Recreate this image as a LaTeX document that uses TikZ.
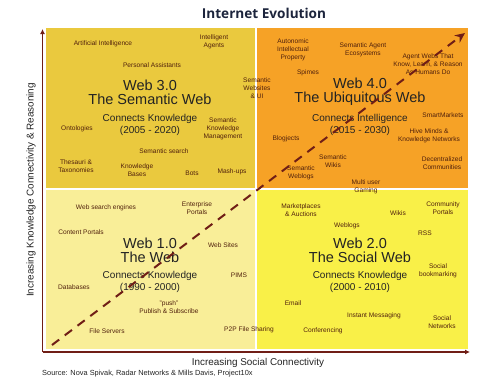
\documentclass[tikz,border=0pt]{standalone}
\usepackage{fontspec}
\setmainfont{Liberation Sans}
\newfontfamily\titlefont{Open Sans}
\usetikzlibrary{arrows.meta}
\definecolor{evomustard}{RGB}{234,201,62}
\definecolor{evoorange}{RGB}{246,162,38}
\definecolor{evopale}{RGB}{249,238,152}
\definecolor{evoyellow}{RGB}{249,240,72}
\definecolor{evobrown}{RGB}{80,32,12}
\definecolor{evomaroon}{RGB}{112,30,22}
\definecolor{evogray}{RGB}{35,35,35}
\definecolor{evonavy}{RGB}{28,36,60}

\tikzset{
  lbl/.style={font=\fontsize{6.6}{7.8}\selectfont, text=evobrown, align=center, inner sep=0pt},
  webtitle/.style={font=\fontsize{14.5}{14}\selectfont, text=evogray, align=center, inner sep=0pt},
  websub/.style={font=\fontsize{10}{12}\selectfont, text=evogray, align=center, inner sep=0pt},
  axislbl/.style={font=\fontsize{9.9}{11}\selectfont, text=evogray, inner sep=0pt},
}

\begin{document}
\begin{tikzpicture}[x=1pt, y=-1pt]
  \useasboundingbox (0,0) rectangle (500,389);
  % quadrants
  \fill[evomustard] (46,28) rectangle (255,188);
  \fill[evoorange] (257,28) rectangle (468,188);
  \fill[evopale] (46,190) rectangle (255,349);
  \fill[evoyellow] (257,190) rectangle (468,349);
  % axes
  \coordinate (origin) at (42.5,352);
  \coordinate (ytop) at (42.5,29);
  \coordinate (xend) at (470,352);
  \draw[evomaroon, line width=1.2pt, -{Latex[length=5pt, width=5pt]}] (origin) -- (ytop);
  \draw[evomaroon, line width=1.2pt, -{Latex[length=5pt, width=5pt]}] (origin) -- (xend);
  \node[axislbl] (xlabel) at (258,363) {Increasing Social Connectivity};
  \node[axislbl, rotate=90] (ylabel) at (31,190) {Increasing Knowledge Connectivity \& Reasoning};
  % titre et source
  \node[font=\titlefont\bfseries\fontsize{13.6}{14}\selectfont, text=evonavy, inner sep=0pt] (title) at (264,13) {Internet Evolution};
  \node[font=\fontsize{7.4}{8}\selectfont, text=evogray, anchor=west, inner sep=0pt] (source) at (42,374) {Source: Nova Spivak, Radar Networks \& Mills Davis, Project10x};
  % web 3.0
  \node[webtitle] (w3) at (150,92) {Web 3.0\\The Semantic Web};
  \node[websub] (w3sub) at (150,125) {Connects Knowledge\\(2005 - 2020)};
  \node[lbl] (ai) at (103,44) {Artificial Intelligence};
  \node[lbl] (agents) at (214,42) {Intelligent\\Agents};
  \node[lbl] (assist) at (152,65) {Personal Assistants};
  \node[lbl] (onto) at (77,129) {Ontologies};
  \node[lbl] (skm) at (223,129) {Semantic\\Knowledge\\Management};
  \node[lbl] (ssearch) at (164,151) {Semantic search};
  \node[lbl] (thes) at (76,166) {Thesauri \&\\Taxonomies};
  \node[lbl] (kbases) at (137,170) {Knowledge\\Bases};
  \node[lbl] (bots) at (192,173) {Bots};
  \node[lbl] (mashups) at (232,172) {Mash-ups};
  \node[lbl] (swebsites) at (257,88) {Semantic\\Websites\\\& UI};
  % web 4.0
  \node[webtitle] (w4) at (360,92) {Web 4.0\\The Ubiquitous Web};
  \node[websub] (w4sub) at (360,125) {Connects Intelligence\\(2015 - 2030)};
  \node[lbl] (autonomic) at (293,50) {Autonomic\\Intellectual\\Property};
  \node[lbl] (ecosys) at (363,50) {Semantic Agent\\Ecosystems};
  \node[lbl] (agentwebs) at (428,64) {Agent Webs That\\Know, Learn, \& Reason\\As Humans Do};
  \node[lbl] (spimes) at (308,73) {Spimes};
  \node[lbl] (smart) at (443,115) {SmartMarkets};
  \node[lbl] (hive) at (429,136) {Hive Minds \&\\Knowledge Networks};
  \node[lbl] (blogjects) at (286,139) {Blogjects};
  \node[lbl] (swikis) at (333,161) {Semantic\\Wikis};
  \node[lbl] (sweblogs) at (301,173) {Semantic\\Weblogs};
  \node[lbl] (decentral) at (442,163) {Decentralized\\Communities};
  \node[lbl] (gaming) at (366,187) {Multi user\\Gaming};
  % web 1.0
  \node[webtitle] (w1) at (150,250) {Web 1.0\\The Web};
  \node[websub] (w1sub) at (150,282) {Connects Knowledge\\(1990 - 2000)};
  \node[lbl] (engines) at (106,208) {Web search engines};
  \node[lbl] (enterprise) at (197,208) {Enterprise\\Portals};
  \node[lbl] (content) at (81,232) {Content Portals};
  \node[lbl] (websites) at (223,245) {Web Sites};
  \node[lbl] (pims) at (239,275) {PIMS};
  \node[lbl] (databases) at (74,287) {Databases};
  \node[lbl] (push) at (169,307) {"push"\\Publish \& Subscribe};
  \node[lbl] (servers) at (107,331) {File Servers};
  \node[lbl] (ptwop) at (249,330) {P2P File Sharing};
  % web 2.0
  \node[webtitle] (w2) at (360,250) {Web 2.0\\The Social Web};
  \node[websub] (w2sub) at (360,282) {Connects Knowledge\\(2000 - 2010)};
  \node[lbl] (market) at (301,210) {Marketplaces\\\& Auctions};
  \node[lbl] (wikis) at (398,213) {Wikis};
  \node[lbl] (community) at (443,208) {Community\\Portals};
  \node[lbl] (weblogs) at (347,226) {Weblogs};
  \node[lbl] (rss) at (425,233) {RSS};
  \node[lbl] (bookmark) at (438,271) {Social\\bookmarking};
  \node[lbl] (email) at (293,303) {Email};
  \node[lbl] (instant) at (374,316) {Instant Messaging};
  \node[lbl] (socialnet) at (442,322) {Social\\Networks};
  \node[lbl] (conf) at (323,331) {Conferencing};
  % fleche diagonale
  \coordinate (dstart) at (52,345);
  \coordinate (dend) at (465,33);
  \draw[evomaroon, line width=2pt, dash pattern=on 9pt off 7pt, -{Stealth[length=10pt, width=9pt]}] (dstart) -- (dend);
\end{tikzpicture}
\end{document}
